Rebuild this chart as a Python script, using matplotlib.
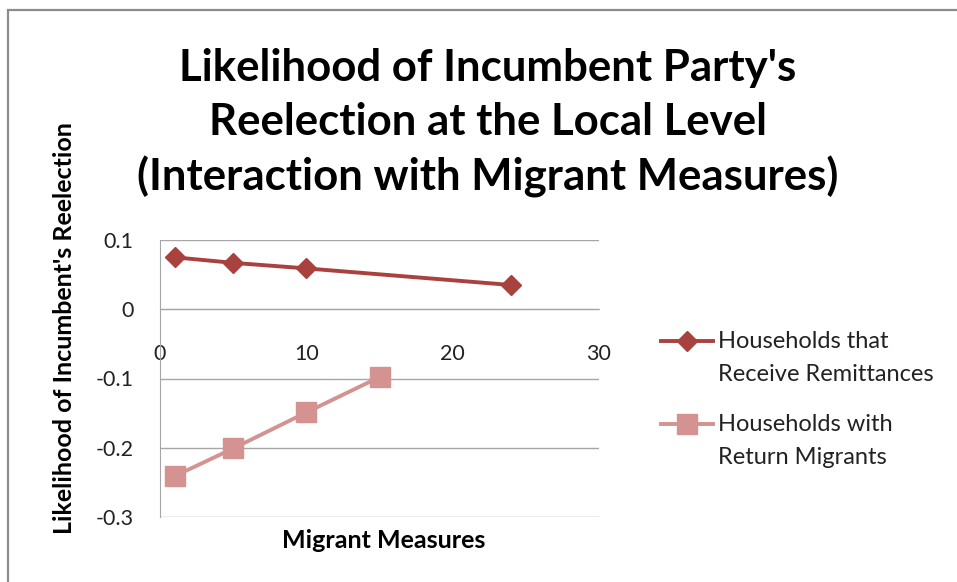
import matplotlib
matplotlib.use('Agg')
import matplotlib.pyplot as plt
from matplotlib.patches import Rectangle
import numpy as np

# series
remit_x = [1, 5, 10, 24]
remit_y = [0.075, 0.067, 0.059, 0.035]
return_x = [1, 5, 10, 15]
return_y = [-0.241, -0.201, -0.149, -0.098]

remit_label = 'Households that\nReceive Remittances'
return_label = 'Households with\nReturn Migrants'
x_ticks = [0, 10, 20, 30]
y_ticks = [-0.3, -0.2, -0.1, 0, 0.1]
y_ticklabels = ['-0.3', '-0.2', '-0.1', '0', '0.1']

plt.rcParams['font.family'] = ['Lato', 'DejaVu Sans']

fig = plt.figure(figsize=(9.57, 5.82), dpi=100)
W, H = 957.0, 582.0

# outer chart frame (only top / left edges visible)
fig.patches.append(Rectangle((8 / W, -0.1), 1.2, 1 - 10 / H + 0.1,
                             transform=fig.transFigure, fill=False,
                             edgecolor='#8c8c8c', linewidth=1.6))

ax = fig.add_axes([160 / W, 1 - 517 / H, (599 - 160) / W, (517 - 240) / H])
grey = '#a6a6a6'

ax.plot(remit_x, remit_y, color='#A9413E', lw=2.8, marker='D', ms=10,
        label=remit_label, zorder=4)
ax.plot(return_x, return_y, color='#D49391', lw=2.8, marker='s', ms=14,
        label=return_label, zorder=3)

ax.set_xlim(0, 30)
ax.set_ylim(-0.3, 0.1)
ax.set_xticks(x_ticks)
ax.set_yticks(y_ticks)
ax.set_yticklabels(y_ticklabels)
ax.yaxis.grid(True, color=grey, lw=1.0)
ax.set_axisbelow(True)

ax.spines['bottom'].set_position(('data', 0))
ax.spines['bottom'].set_color(grey)
ax.spines['left'].set_color(grey)
ax.spines['top'].set_visible(False)
ax.spines['right'].set_visible(False)
ax.tick_params(axis='x', length=0, pad=25, labelsize=15.5, colors='#222222')
ax.tick_params(axis='y', length=0, pad=19, labelsize=15.5, colors='#222222')

fig.text(488 / W, 1 - 123 / H,
         "Likelihood of Incumbent Party's\nReelection at the Local Level\n(Interaction with Migrant Measures)",
         ha='center', va='center', fontsize=31.5, fontweight='bold',
         linespacing=1.4)
fig.text(384 / W, 1 - 540 / H, 'Migrant Measures', ha='center', va='center',
         fontsize=18, fontweight='bold')
fig.text(65 / W, 1 - 328 / H, "Likelihood of Incumbent's Reelection",
         ha='center', va='center', rotation=90, fontsize=18,
         fontweight='bold')

leg = fig.legend(loc='upper left', bbox_to_anchor=(640 / W, 1 - 310 / H),
                 frameon=False, fontsize=17, handlelength=2.2,
                 handletextpad=0.2, labelspacing=1.2)
for t in leg.get_texts():
    t.set_linespacing(1.72)
    t.set_color('#222222')
# put each legend symbol next to the first line of its label
for h in leg.legend_handles:
    h.set_ydata(np.asarray(h.get_ydata()) + 12.5)

fig.savefig('out.png', dpi=100)
